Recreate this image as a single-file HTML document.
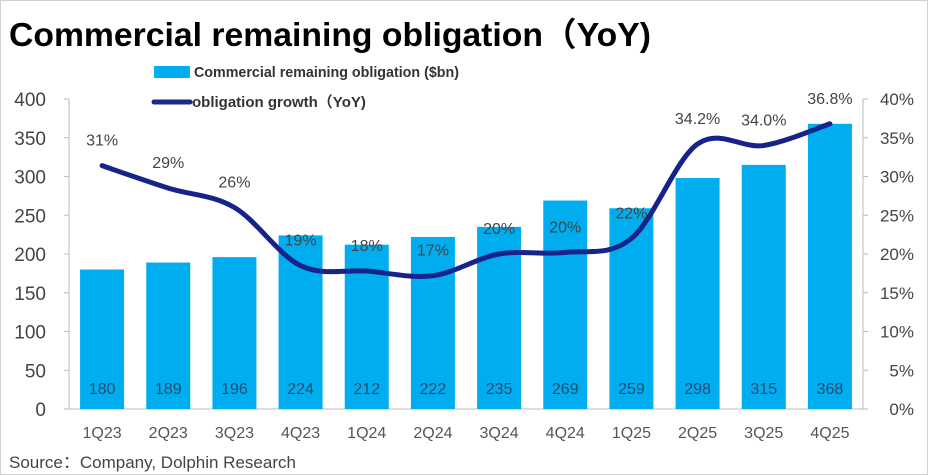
<!DOCTYPE html>
<html><head><meta charset="utf-8"><style>
body{margin:0;background:#fff;font-family:"Liberation Sans","Noto Sans CJK SC",sans-serif}
#wrap{position:relative;width:928px;height:475px;overflow:hidden;background:#fff;border:1px solid #d0d0d0;box-sizing:border-box}
svg text{font-family:"Liberation Sans","Noto Sans CJK SC",sans-serif}
</style></head><body>
<div id="wrap">
<svg id="c" width="928" height="475">
<text x="8" y="45" font-size="33" font-weight="bold" fill="#000" textLength="642" lengthAdjust="spacingAndGlyphs">Commercial remaining obligation（YoY)</text>
<rect x="153" y="65" width="36" height="12" fill="#00aeef"/>
<text x="193" y="76" font-size="15" font-weight="bold" fill="#333" textLength="265" lengthAdjust="spacingAndGlyphs">Commercial remaining obligation ($bn)</text>
<line x1="153" y1="101" x2="189" y2="101" stroke="#1a2a8a" stroke-width="5" stroke-linecap="round"/>
<text x="191" y="106" font-size="15" font-weight="bold" fill="#333">obligation growth（YoY)</text>
<g id="g"></g>
<text x="8" y="467" font-size="17" fill="#444">Source：Company, Dolphin Research</text>
</svg></div>
<script>
const categories=["1Q23","2Q23","3Q23","4Q23","1Q24","2Q24","3Q24","4Q24","1Q25","2Q25","3Q25","4Q25"];
const obligation=[180,189,196,224,212,222,235,269,259,298,315,368];
const growth=[31.4,28.5,26,18.5,17.8,17.2,20,20.2,22,34.2,34.0,36.8];
const growthLabels=["31%","29%","26%","19%","18%","17%","20%","20%","22%","34.2%","34.0%","36.8%"];
const leftTicks=[0,50,100,150,200,250,300,350,400];
const rightTicks=[0,5,10,15,20,25,30,35,40];
const NS="http://www.w3.org/2000/svg",g=document.getElementById('g');
const L=68,R=862,T=98,B=408,bw=(R-L)/categories.length;
const xc=i=>L+bw*(i+0.5), yl=v=>B-(v/400)*(B-T), yr=v=>B-(v/40)*(B-T);
function mk(t,a,txt){const e=document.createElementNS(NS,t);for(const k in a)e.setAttribute(k,a[k]);if(txt!==undefined)e.textContent=txt;g.appendChild(e);return e;}
let e=mk('line',{x1:L,y1:T,x2:L,y2:B,stroke:'#bbb'});


e=mk('line',{x1:R,y1:T,x2:R,y2:B,stroke:'#bbb'});


e=mk('line',{x1:L,y1:B,x2:R,y2:B,stroke:'#bbb'});


leftTicks.forEach(v=>{mk('line',{x1:L-5,y1:yl(v),x2:L,y2:yl(v),stroke:'#bbb'});
e=mk('text',{x:45,y:yl(v)+7,'font-size':19,fill:'#444','text-anchor':'end'},v);

});
rightTicks.forEach(v=>{mk('line',{x1:R,y1:yr(v),x2:R+5,y2:yr(v),stroke:'#bbb'});
e=mk('text',{x:913,y:yr(v)+6,'font-size':17,fill:'#444','text-anchor':'end'},v+'%');

});
categories.forEach((c,i)=>{
e=mk('rect',{x:xc(i)-22,y:yl(obligation[i]),width:44,height:B-yl(obligation[i]),fill:'#00aeef'});


e=mk('text',{x:xc(i),y:393,'font-size':16,fill:'#2a4a70','text-anchor':'middle'},obligation[i]);


e=mk('text',{x:xc(i),y:437,'font-size':16,fill:'#555','text-anchor':'middle'},c);


});
const pts=growth.map((v,i)=>[xc(i),yr(v)]);
let d='M'+pts[0][0]+','+pts[0][1];
for(let i=0;i<pts.length-1;i++){const p0=pts[Math.max(0,i-1)],p1=pts[i],p2=pts[i+1],p3=pts[Math.min(pts.length-1,i+2)];
d+=` C${p1[0]+(p2[0]-p0[0])/6},${p1[1]+(p2[1]-p0[1])/6} ${p2[0]-(p3[0]-p1[0])/6},${p2[1]-(p3[1]-p1[1])/6} ${p2[0]},${p2[1]}`;}
e=mk('path',{d:d,fill:'none',stroke:'#15238a','stroke-width':5,'stroke-linecap':'round'});


growth.forEach((v,i)=>{
e=mk('text',{x:xc(i),y:yr(v)-20,'font-size':16,fill:'#444','text-anchor':'middle'},growthLabels[i]);

});
</script></body></html>
